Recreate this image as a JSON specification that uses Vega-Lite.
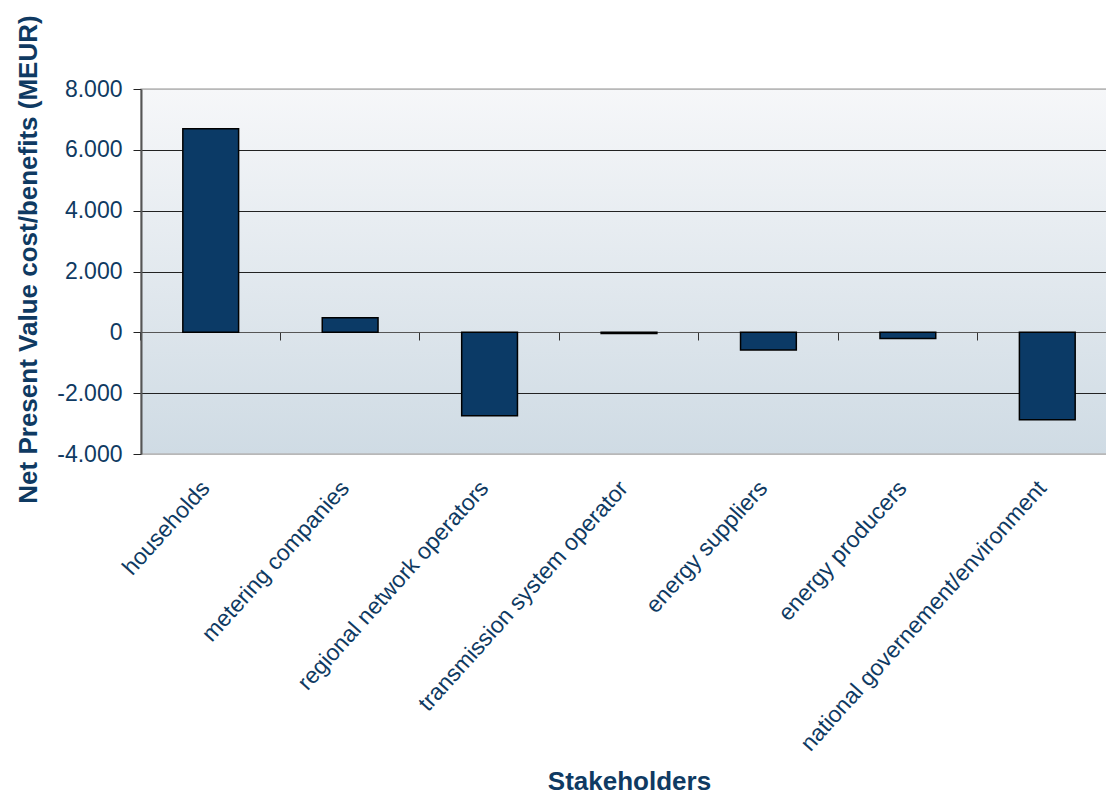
{
  "$schema": "https://vega.github.io/schema/vega-lite/v6.json",
  "width": 976,
  "height": 365,
  "autosize": "none",
  "padding": {"left": 141, "top": 89, "right": 0, "bottom": 342},
  "background": "white",
  "config": {
    "font": "Liberation Sans",
    "view": {
      "stroke": "#b8b8b8",
      "strokeWidth": 1.5,
      "fill": {"gradient": "linear", "x1": 0, "y1": 0, "x2": 0, "y2": 1,
        "stops": [{"offset": 0, "color": "#F6F7F9"}, {"offset": 1, "color": "#CFDBE4"}]}
    }
  },
  "data": {"values": [
    {"stakeholder": "households", "npv": 6690},
    {"stakeholder": "metering companies", "npv": 480},
    {"stakeholder": "regional network operators", "npv": -2740},
    {"stakeholder": "transmission system operator", "npv": -40},
    {"stakeholder": "energy suppliers", "npv": -580},
    {"stakeholder": "energy producers", "npv": -200},
    {"stakeholder": "national governement/environment", "npv": -2870}
  ]},
  "layer": [
    {
      "mark": {"type": "bar", "fill": "#0B3A66", "stroke": "#000000", "strokeWidth": 1.5},
      "encoding": {
        "x": {
          "field": "stakeholder", "type": "nominal", "sort": null,
          "scale": {"paddingInner": 0.6, "paddingOuter": 0.3},
          "axis": {
            "orient": "bottom",
            "title": "Stakeholders",
            "titleFontSize": 26, "titleFontWeight": "bold", "titleColor": "#0F3A62",
            "titleBaseline": "middle", "titleY": 327, "titleAnchor": "middle",
            "labelAngle": -48, "labelAlign": "right", "labelBaseline": "middle",
            "labelFontSize": 23, "labelColor": "#0F3A62", "labelPadding": 30, "labelLimit": 0,
            "labelOffset": -5,
            "ticks": false, "domain": false, "grid": false
          }
        },
        "y": {
          "field": "npv", "type": "quantitative",
          "scale": {"domain": [-4000, 8000], "nice": false},
          "axis": {
            "title": "Net Present Value cost/benefits (MEUR)",
            "titleFontSize": 26, "titleFontWeight": "bold", "titleColor": "#0F3A62",
            "titleX": -113, "titleY": 170, "titleBaseline": "middle", "titleAngle": -90, "titleAlign": "center",
            "values": [-4000, -2000, 0, 2000, 4000, 6000, 8000],
            "labelExpr": "datum.value == 0 ? '0' : (datum.value < 0 ? '-' : '') + replace(format(abs(datum.value), ','), ',', '.')",
            "labelFontSize": 23, "labelColor": "#0F3A62", "labelPadding": 11,
            "tickSize": 8, "tickColor": "#222222",
            "domainColor": "#555555", "domainWidth": 2,
            "grid": true,
            "gridColor": {"condition": {"test": "datum.value === 8000 || datum.value === -4000", "value": "#b8b8b8"}, "value": "#222222"},
            "gridWidth": 1
          }
        }
      }
    },
    {
      "mark": {"type": "point", "opacity": 0},
      "encoding": {
        "x": {
          "field": "stakeholder", "type": "nominal", "sort": null,
          "axis": {
            "orient": "bottom", "offset": -122, "title": null, "labels": false,
            "bandPosition": -0.75, "ticks": true, "tickSize": 8, "tickColor": "#333333", "tickWidth": 1,
            "domain": true, "domainColor": "#555555", "domainWidth": 1.2, "grid": false
          }
        },
        "y": {"datum": 0, "type": "quantitative"}
      }
    }
  ],
  "resolve": {"axis": {"x": "independent"}}
}
